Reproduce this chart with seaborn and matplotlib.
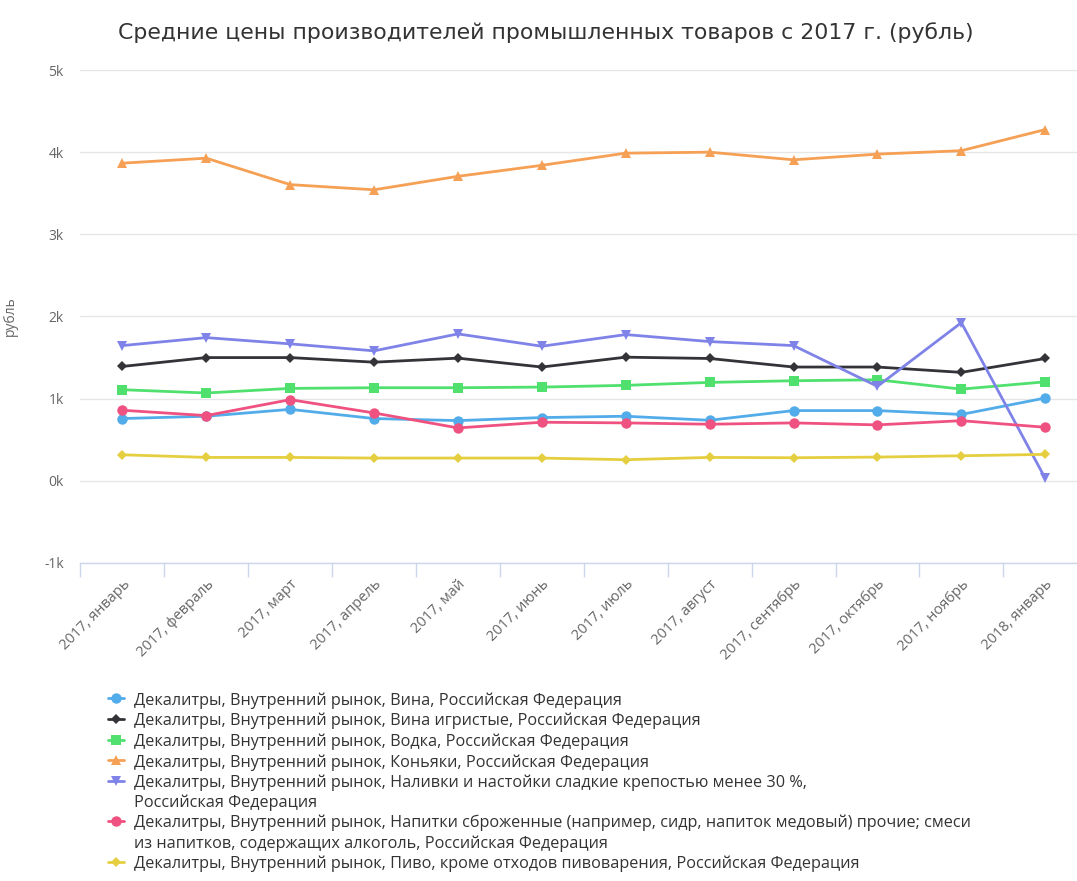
import matplotlib
matplotlib.use("Agg")
import matplotlib.pyplot as plt
from matplotlib.ticker import FuncFormatter, FixedLocator
import seaborn as sns
import pandas as pd

months = ["2017, январь", "2017, февраль", "2017, март", "2017, апрель",
          "2017, май", "2017, июнь", "2017, июль", "2017, август",
          "2017, сентябрь", "2017, октябрь", "2017, ноябрь", "2018, январь"]

series_names = [
    "Декалитры, Внутренний рынок, Вина, Российская Федерация",
    "Декалитры, Внутренний рынок, Вина игристые, Российская Федерация",
    "Декалитры, Внутренний рынок, Водка, Российская Федерация",
    "Декалитры, Внутренний рынок, Коньяки, Российская Федерация",
    "Декалитры, Внутренний рынок, Наливки и настойки сладкие крепостью менее 30 %,\nРоссийская Федерация",
    "Декалитры, Внутренний рынок, Напитки сброженные (например, сидр, напиток медовый) прочие; смеси\nиз напитков, содержащих алкоголь, Российская Федерация",
    "Декалитры, Внутренний рынок, Пиво, кроме отходов пивоварения, Российская Федерация",
]

vina = [758, 786, 870, 758, 733, 770, 786, 737, 855, 855, 808, 1008]
vina_igristye = [1392, 1500, 1500, 1444, 1493, 1385, 1505, 1489, 1385, 1385, 1320, 1489]
vodka = [1109, 1069, 1125, 1133, 1133, 1141, 1162, 1198, 1218, 1230, 1116, 1205]
konyaki = [3866, 3927, 3605, 3542, 3706, 3840, 3988, 4000, 3907, 3976, 4018, 4275]
nalivki = [1646, 1743, 1667, 1582, 1788, 1638, 1780, 1695, 1646, 1150, 1925, 30]
napitki = [859, 794, 988, 826, 644, 713, 705, 689, 705, 681, 732, 652]
pivo = [317, 285, 285, 277, 277, 277, 257, 285, 281, 289, 305, 322]

values = [vina, vina_igristye, vodka, konyaki, nalivki, napitki, pivo]

colors = ["#52acea", "#333338", "#4fe06e", "#f5a055", "#7f83e8", "#ef5280", "#e5cf40"]
marker_shapes = ["o", "D", "s", "^", "v", "o", "D"]

rows = []
for name, vals in zip(series_names, values):
    for i, v in enumerate(vals):
        rows.append({"idx": i, "value": v, "series": name})
df = pd.DataFrame(rows)

sns.set_theme(style="white")
plt.rcParams["font.family"] = ["Open Sans", "DejaVu Sans"]

W, H = 1077, 881
fig = plt.figure(figsize=(W / 100, H / 100), dpi=100)

# plot area in pixel terms
left_px, right_px, top_px, bottom_px = 80.4, 1087.0, 70.0, 563.0
ax = fig.add_axes([left_px / W, 1 - bottom_px / H,
                   (right_px - left_px) / W, (bottom_px - top_px) / H])

palette = dict(zip(series_names, colors))
markers = dict(zip(series_names, marker_shapes))
sizes_map = {"o": 7.5, "D": 5.5, "s": 7, "^": 7.5, "v": 7.5}

sns.lineplot(data=df, x="idx", y="value", hue="series", style="series",
             hue_order=series_names, style_order=series_names,
             palette=palette, markers=markers, dashes=False,
             linewidth=2, markeredgewidth=0, legend=True, ax=ax, sort=False)

for line, m in zip(ax.get_lines(), marker_shapes):
    line.set_markersize(sizes_map[m])

handles, labels = ax.get_legend_handles_labels()
ax.get_legend().remove()
for h, m in zip(handles, marker_shapes):
    h.set_markersize(sizes_map[m])
    h.set_linewidth(2)

ax.set_xlim(-0.5, -0.5 + (right_px - left_px) / 83.9)
ax.set_ylim(-1000, 5000)

# y axis
ax.set_yticks(range(-1000, 5001, 1000))
ax.yaxis.set_major_formatter(FuncFormatter(lambda v, p: f"{int(v // 1000)}k"))
ax.tick_params(axis="y", length=0, pad=12, labelsize=10, labelcolor="#666666")
ax.grid(axis="y", color="#e6e6e6", linewidth=1)
ax.grid(axis="x", visible=False)
ax.set_ylabel("рубль", color="#666666", fontsize=10)
ax.yaxis.set_label_coords((18 - left_px) / (right_px - left_px), 0.5)

# x axis: labels at categories, tick marks between them
ax.set_xticks(range(len(months)))
ax.set_xticklabels(months, rotation=45, ha="right", rotation_mode="anchor",
                   fontsize=10.5, color="#666666")
ax.tick_params(axis="x", which="major", length=0, pad=10)
ax.xaxis.set_minor_locator(FixedLocator([i - 0.5 for i in range(len(months))]))
ax.tick_params(axis="x", which="minor", length=10, width=1, color="#ccd6eb", bottom=True)
ax.set_xlabel("")

for s in ["top", "right", "left"]:
    ax.spines[s].set_visible(False)
ax.spines["bottom"].set_color("#ccd6eb")
ax.spines["bottom"].set_linewidth(1)

fig.text(546 / W, 1 - 33 / H,
         "Средние цены производителей промышленных товаров с 2017 г. (рубль)",
         ha="center", va="center", fontsize=15.8, color="#333333",
         family=["DejaVu Sans"])

leg = fig.legend(handles, series_names, loc="upper left",
                 bbox_to_anchor=(108 / W, 1 - 692 / H), frameon=False,
                 prop={"family": "Open Sans", "size": 11.7},
                 handlelength=1.0, handletextpad=0.6, labelspacing=0.23,
                 handleheight=1.0, borderaxespad=0, borderpad=0)
for t in leg.get_texts():
    t.set_color("#333333")
    t.set_linespacing(1.3)

# wrapped entries: keep the symbol beside the first text line
for column in leg._legend_handle_box.get_children():
    for entry in column.get_children():
        kids = entry.get_children()
        if len(kids) == 2 and "\n" in kids[1].get_text():
            entry.align = "top"

fig.savefig("out.png", dpi=100)
